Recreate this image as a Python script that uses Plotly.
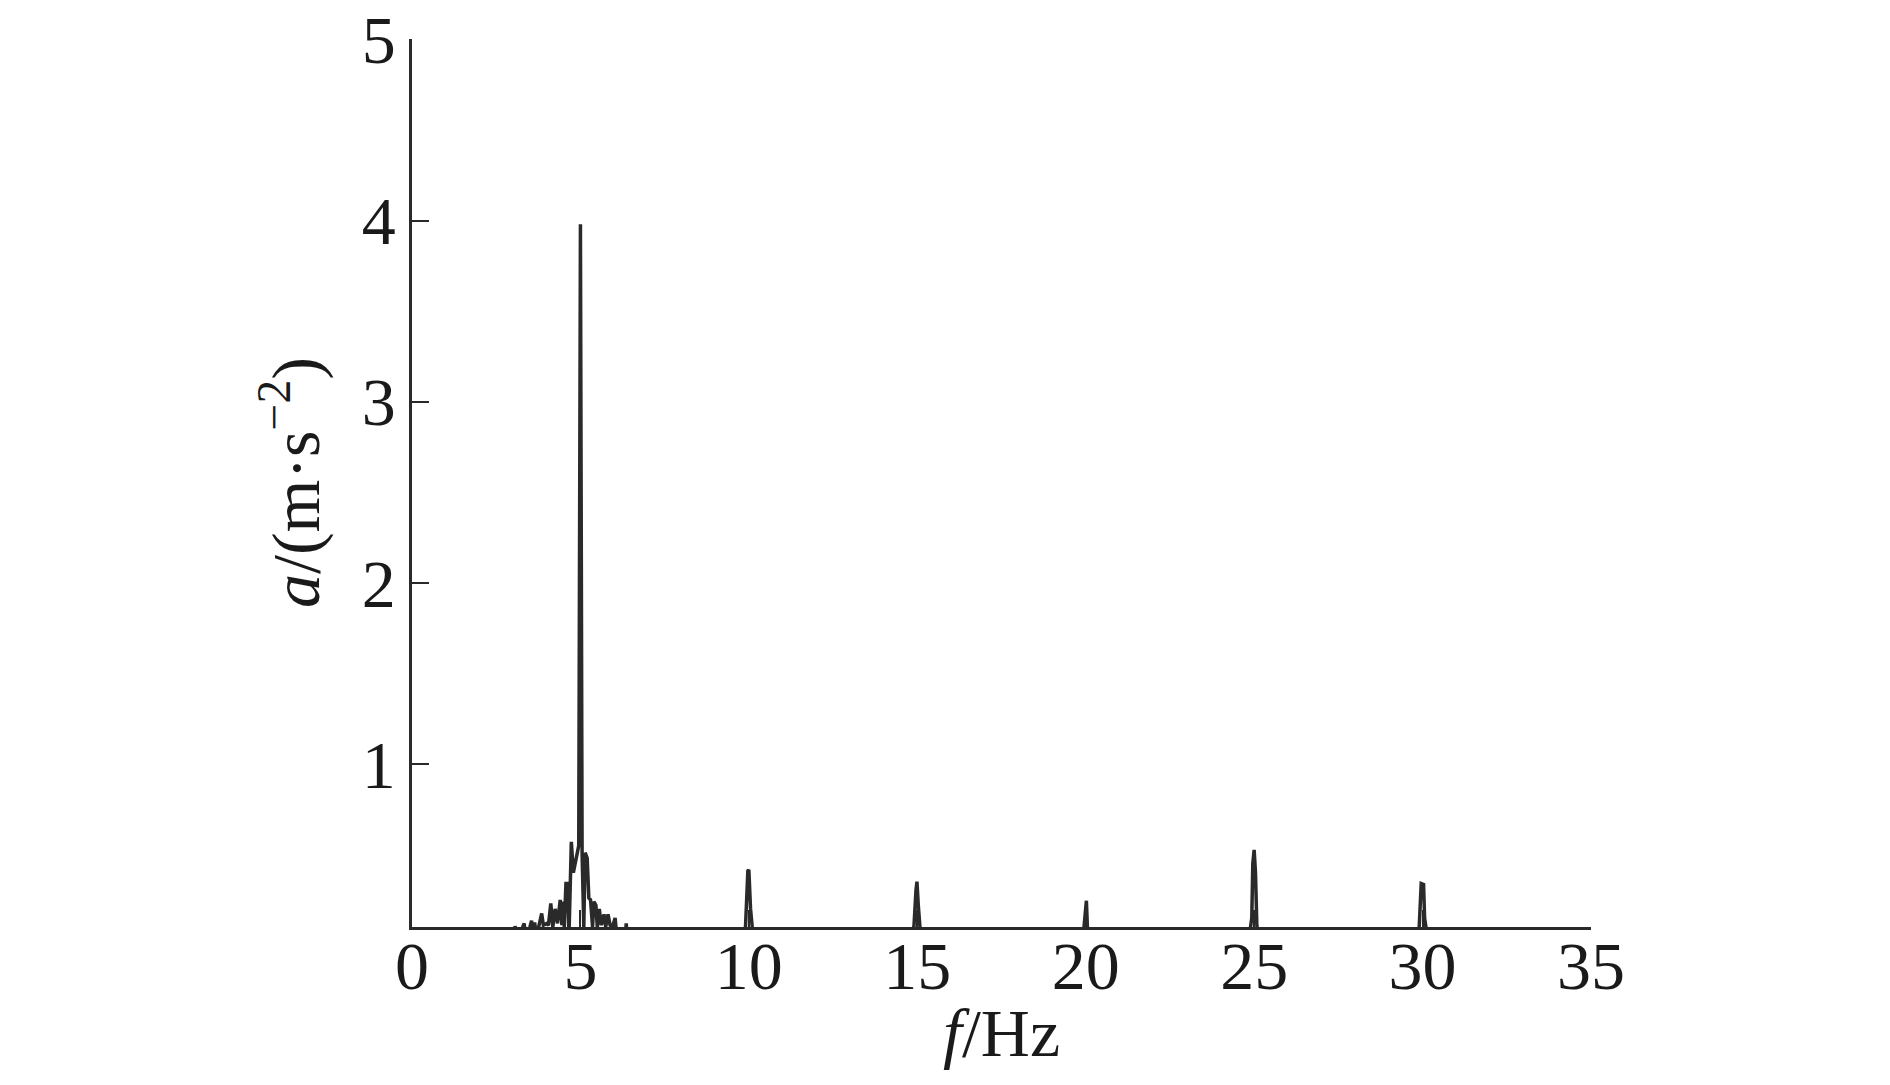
import plotly.graph_objects as go

# Spectrum (frequency in Hz, acceleration amplitude in m/s^2)
freq_main = [0.0, 3.00, 3.06, 3.12, 3.33, 3.38, 3.50, 3.55, 3.60, 3.64, 3.70, 3.85, 3.90,
             4.00, 4.05, 4.12, 4.18, 4.25, 4.32, 4.40, 4.45, 4.47, 4.52, 4.57, 4.62,
             4.66, 4.73, 4.79, 4.95, 5.00, 5.05, 5.10, 5.14, 5.20, 5.25, 5.30, 5.36,
             5.40, 5.46, 5.50, 5.56, 5.62, 5.70, 5.75, 5.82, 5.88, 5.95, 6.03, 6.08,
             6.33, 6.36, 6.40]
amp_main = [0.0, 0.0, 0.105, 0.02, 0.12, 0.03, 0.10, 0.135, 0.04, 0.125, 0.05, 0.175, 0.11,
            0.12, 0.11, 0.23, 0.10, 0.20, 0.12, 0.25, 0.11, 0.24, 0.10, 0.34, 0.34,
            0.05, 0.57, 0.40, 0.55, 3.98, 0.50, 0.10, 0.51, 0.48, 0.26, 0.25, 0.10,
            0.24, 0.22, 0.10, 0.20, 0.11, 0.17, 0.10, 0.17, 0.11, 0.10, 0.15, 0.05,
            0.05, 0.12, 0.0]

freq_h10 = [9.85, 9.90, 9.97, 10.00, 10.05, 10.10, 10.15]
amp_h10 = [0.0, 0.10, 0.41, 0.415, 0.20, 0.10, 0.0]

freq_h15 = [14.85, 14.90, 14.96, 14.99, 15.03, 15.07, 15.12]
amp_h15 = [0.0, 0.10, 0.30, 0.35, 0.22, 0.10, 0.0]

freq_h20 = [19.90, 19.95, 19.97, 20.02, 20.05, 20.10]
amp_h20 = [0.0, 0.10, 0.15, 0.245, 0.10, 0.0]

freq_h25 = [24.82, 24.88, 24.93, 24.96, 25.00, 25.04, 25.08, 25.14]
amp_h25 = [0.0, 0.10, 0.15, 0.45, 0.526, 0.40, 0.11, 0.0]

freq_h30 = [29.85, 29.90, 29.96, 30.03, 30.06, 30.10, 30.15]
amp_h30 = [0.0, 0.10, 0.34, 0.335, 0.15, 0.10, 0.0]

freq_tail = [30.15, 35.0]
amp_tail = [0.0, 0.0]

x_ticks = [0, 5, 10, 15, 20, 25, 30, 35]
y_ticks = [1, 2, 3, 4, 5]

freq = (freq_main + freq_h10 + freq_h15 + freq_h20 + freq_h25 + freq_h30 + freq_tail)
amp = (amp_main + amp_h10 + amp_h15 + amp_h20 + amp_h25 + amp_h30 + amp_tail)

line_color = "#2a2a2a"
font_family = "Times New Roman, Liberation Serif, serif"

fig = go.Figure()
fig.add_trace(go.Scatter(x=freq, y=amp, mode="lines",
                         line=dict(color=line_color, width=3.5),
                         showlegend=False, hoverinfo="x+y"))

# page body has an 8 px default margin, so the figure is 16 px smaller than the window
fig.update_layout(
    width=1874, height=1069,
    margin=dict(l=404, r=291, t=31, b=150, autoexpand=False),
    paper_bgcolor="white", plot_bgcolor="white",
    font=dict(family=font_family, size=68, color="#1a1a1a"),
    showlegend=False,
)
fig.update_xaxes(
    range=[0, 35], tickvals=x_ticks, ticktext=[str(v) for v in x_ticks],
    ticks="inside", ticklen=17, tickwidth=2, tickcolor=line_color,
    showline=True, linecolor=line_color, linewidth=2.5,
    showgrid=False, zeroline=False, ticklabelstandoff=-22,
    automargin=False, ticklabeloverflow="allow",
)
fig.update_yaxes(
    range=[0.1, 5.002], tickvals=y_ticks, ticktext=[str(v) for v in y_ticks],
    ticks="inside", ticklen=17, tickwidth=2, tickcolor=line_color,
    showline=True, linecolor=line_color, linewidth=2.5,
    showgrid=False, zeroline=False, ticklabelstandoff=0,
    automargin=False, ticklabeloverflow="allow",
)

fig.add_annotation(text="<i>f</i>/Hz", xref="paper", yref="paper", x=0.5, y=0,
                   xanchor="center", yanchor="middle", yshift=-106, showarrow=False,
                   font=dict(family=font_family, size=68, color="#1a1a1a"))
fig.add_annotation(text="<i>a</i>/(m·s<sup>−2</sup>)", xref="paper", yref="paper",
                   x=0, y=0.5, xanchor="center", yanchor="middle", xshift=-121,
                   textangle=-90, showarrow=False,
                   font=dict(family=font_family, size=68, color="#1a1a1a"))

fig.write_html("out.html")
